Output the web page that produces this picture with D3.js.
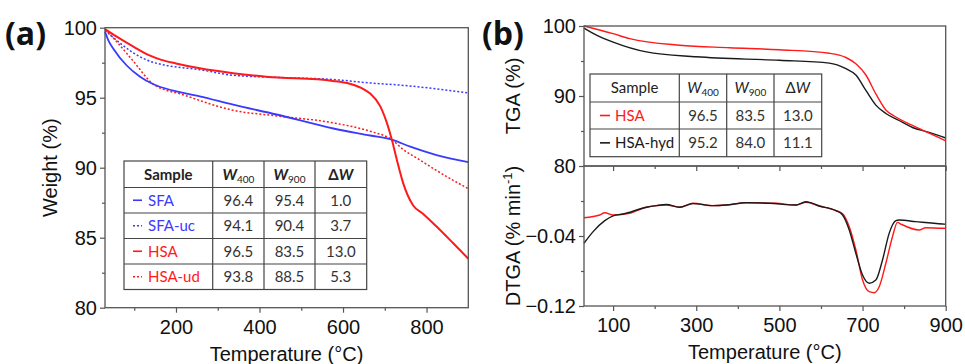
<!DOCTYPE html>
<html>
<head>
<meta charset="utf-8">
<script src="https://cdn.jsdelivr.net/npm/d3@7"></script>
<style>
  body { margin: 0; background: #fff; }
  svg { display: block; }
</style>
</head>
<body>
<div id="chart"></div>
<script>
// ---- panel (a) : weight loss ----
const sfaT   = [30, 38, 50, 82, 114, 146, 194, 257, 337, 441, 577, 665, 717, 761, 824, 900];
const sfaW   = [99.7, 99.1, 98.5, 97.3, 96.5, 95.96, 95.5, 95.1, 94.5, 93.8, 92.8, 92.3, 92.0, 91.5, 90.9, 90.4];
const sfaUcT = [30, 66, 98, 138, 178, 257, 337, 441, 576, 665, 736, 900];
const sfaUcW = [99.8, 98.9, 98.2, 97.6, 97.3, 97.0, 96.6, 96.45, 96.3, 96.05, 95.9, 95.35];
const hsaT   = [30, 58, 98, 138, 165, 200, 257, 337, 416, 576, 616, 650, 665, 689, 705, 717, 729, 744, 768, 792, 824, 864, 900];
const hsaW   = [99.9, 99.36, 98.65, 98.0, 97.7, 97.45, 97.1, 96.75, 96.5, 96.2, 96.0, 95.6, 95.3, 94.4, 93.2, 92.0, 90.55, 88.9, 87.3, 86.7, 85.8, 84.6, 83.5];
const hsaUdT = [30, 58, 98, 146, 218, 337, 441, 577, 665, 717, 744, 784, 824, 864, 900];
const hsaUdW = [99.9, 99.0, 97.6, 95.96, 95.2, 94.1, 93.7, 93.2, 92.6, 92.0, 91.3, 90.55, 89.8, 89.1, 88.5];

// ---- panel (b) : TGA ----
const hsaBT = [30, 100, 140, 260, 380, 500, 620, 660, 684, 708, 732, 756, 780, 820, 860, 900];
const hsaBW = [100, 98.9, 98.2, 97.25, 96.9, 96.6, 96.1, 95.5, 94.6, 93.0, 90.3, 88.0, 87.0, 85.8, 84.7, 83.6];
const hydT  = [30, 60, 100, 180, 300, 500, 620, 660, 684, 708, 732, 756, 788, 820, 860, 900];
const hydW  = [99.7, 98.7, 97.7, 96.3, 95.6, 95.1, 94.7, 93.9, 93.0, 90.8, 88.7, 87.5, 86.5, 85.5, 84.8, 84.0];

// ---- panel (b) : DTGA ----
const dtHsaT = [30, 68, 80, 100, 140, 180, 204, 228, 260, 292, 340, 372, 420, 492, 540, 564, 596, 636, 652, 668, 684, 700, 716, 728, 740, 756, 772, 784, 792, 836, 852, 892, 900];
const dtHsaV = [-0.0191, -0.016, -0.0134, -0.016, -0.014, -0.0072, -0.0053, -0.0046, -0.0072, -0.0026, -0.0053, -0.0046, -0.0019, -0.0026, -0.0046, -0.0015, -0.0057, -0.011, -0.0145, -0.0294, -0.056, -0.0903, -0.1036, -0.1048, -0.098, -0.0712, -0.0408, -0.0244, -0.0263, -0.0331, -0.0305, -0.0312, -0.0312];
const dtHydT = [30, 52, 80, 100, 124, 180, 204, 228, 260, 292, 340, 372, 420, 476, 540, 564, 596, 636, 652, 668, 684, 700, 716, 732, 748, 764, 780, 788, 828, 892, 900];
const dtHydV = [-0.0483, -0.035, -0.0225, -0.017, -0.0149, -0.0072, -0.0053, -0.004, -0.0072, -0.003, -0.0053, -0.0046, -0.002, -0.0026, -0.0046, -0.0008, -0.0057, -0.011, -0.016, -0.0331, -0.06, -0.0846, -0.094, -0.0903, -0.0674, -0.037, -0.0225, -0.0217, -0.0236, -0.0263, -0.0265];

// ---- ticks ----
const xMajorA = [200, 400, 600, 800];
const xMinorA = [100, 300, 500, 700];
const yMajorA = [80, 85, 90, 95, 100];
const yMinorA = [82.5, 87.5, 92.5, 97.5];
const xMajorB = [100, 300, 500, 700, 900];
const xMinorB = [200, 400, 600, 800];
const yMajorTop = [80, 90, 100];
const yMinorTop = [85, 95];
const yMajorDt = [-0.12, -0.04];
const yMinorDt = [-0.08, 0];

// ---- tables ----
const tableA = [
  { name: "SFA",    color: "#3a3aff", dash: null,  vals: ["96.4", "95.4", "1.0"] },
  { name: "SFA-uc", color: "#3a3aff", dash: "2,2", vals: ["94.1", "90.4", "3.7"] },
  { name: "HSA",    color: "#ff1a1a", dash: null,  vals: ["96.5", "83.5", "13.0"] },
  { name: "HSA-ud", color: "#ff1a1a", dash: "2,2", vals: ["93.8", "88.5", "5.3"] }
];
const tableB = [
  { name: "HSA",     color: "#ff1a1a", dash: null, vals: ["96.5", "83.5", "13.0"] },
  { name: "HSA-hyd", color: "#1a1a1a", dash: null, vals: ["95.2", "84.0", "11.1"] }
];

const width = 965, height = 364;
const axisColor = "#555";
const tickFont = "'Liberation Sans', Arial, sans-serif";
const tableFont = "Lato, 'Open Sans', sans-serif";

const svg = d3.select("#chart").append("svg")
  .attr("width", width)
  .attr("height", height);

const zip = (ts, vs) => ts.map((t, i) => [t, vs[i]]);

// scales
const xA = d3.scaleLinear().domain([30, 900]).range([105, 468.3]);
const yA = d3.scaleLinear().domain([80, 100]).range([307.7, 27.7]);
const xB = d3.scaleLinear().domain([30, 900]).range([584, 945.7]);
const yTop = d3.scaleLinear().domain([80, 100]).range([166, 26]);
const yDt = d3.scaleLinear().domain([-0.12, 0.04]).range([306, 166]);

function styleAxis(g, size) {
  g.select(".domain").remove();
  g.selectAll(".tick line").attr("stroke", axisColor).attr("stroke-width", 1.2);
  g.selectAll(".tick text")
    .attr("fill", "#111")
    .style("font-family", tickFont)
    .style("font-size", (size || 20) + "px");
}

function drawAxes(x, y, xMaj, xMin, yMaj, yMin, yFmt, showX) {
  const bottom = y.range()[0];
  const gx = svg.append("g").attr("transform", "translate(0," + bottom + ")")
    .call(d3.axisBottom(x).tickValues(xMaj).tickSize(5).tickSizeOuter(0).tickPadding(7)
      .tickFormat(showX ? d3.format("d") : ""));
  styleAxis(gx);
  const gxm = svg.append("g").attr("transform", "translate(0," + bottom + ")")
    .call(d3.axisBottom(x).tickValues(xMin).tickSize(3).tickSizeOuter(0).tickFormat(""));
  styleAxis(gxm);
  const left = x.range()[0];
  const gy = svg.append("g").attr("transform", "translate(" + left + ",0)")
    .call(d3.axisLeft(y).tickValues(yMaj).tickSize(5).tickSizeOuter(0).tickPadding(3).tickFormat(yFmt));
  styleAxis(gy);
  const gym = svg.append("g").attr("transform", "translate(" + left + ",0)")
    .call(d3.axisLeft(y).tickValues(yMin).tickSize(3).tickSizeOuter(0).tickFormat(""));
  styleAxis(gym);
}

function frame(x, y) {
  svg.append("rect")
    .attr("x", x.range()[0]).attr("y", y.range()[1])
    .attr("width", x.range()[1] - x.range()[0])
    .attr("height", y.range()[0] - y.range()[1])
    .attr("fill", "none").attr("stroke", axisColor).attr("stroke-width", 1.3);
}

function curve(x, y, pts, color, w, dash) {
  const line = d3.line().x(d => x(d[0])).y(d => y(d[1])).curve(d3.curveMonotoneX);
  svg.append("path").datum(pts)
    .attr("d", line)
    .attr("fill", "none")
    .attr("stroke", color)
    .attr("stroke-width", w)
    .attr("stroke-dasharray", dash)
    .attr("stroke-linejoin", "round");
}

// table drawing, cols and rows are edge positions
function drawTable(cols, rows, rowsData, bold, legendX, legendW, textX) {
  const g = svg.append("g");
  g.append("rect")
    .attr("x", cols[0]).attr("y", rows[0])
    .attr("width", cols[cols.length - 1] - cols[0])
    .attr("height", rows[rows.length - 1] - rows[0])
    .attr("fill", "#fff").attr("stroke", "#444").attr("stroke-width", 1.2);
  cols.slice(1, -1).forEach(c => g.append("line")
    .attr("x1", c).attr("x2", c).attr("y1", rows[0]).attr("y2", rows[rows.length - 1])
    .attr("stroke", "#444").attr("stroke-width", 1.2));
  rows.slice(1, -1).forEach(r => g.append("line")
    .attr("x1", cols[0]).attr("x2", cols[cols.length - 1]).attr("y1", r).attr("y2", r)
    .attr("stroke", "#444").attr("stroke-width", 1.2));

  const mid = i => (cols[i] + cols[i + 1]) / 2;
  const rowMid = i => (rows[i] + rows[i + 1]) / 2;
  const fw = bold ? "bold" : "normal";

  const header = g.append("g")
    .style("font-family", tableFont).style("font-size", "15px")
    .attr("fill", "#222").attr("text-anchor", "middle");
  header.append("text").attr("x", mid(0)).attr("y", rowMid(0)).attr("dy", "0.35em")
    .attr("font-weight", fw).text("Sample");
  ["400", "900"].forEach((sub, i) => {
    const t = header.append("text").attr("x", mid(i + 1)).attr("y", rowMid(0)).attr("dy", "0.35em");
    t.append("tspan").attr("font-style", "italic").attr("font-weight", fw).text("W");
    t.append("tspan").attr("font-size", "10px").attr("dy", "3").text(sub);
  });
  const dw = header.append("text").attr("x", mid(3)).attr("y", rowMid(0)).attr("dy", "0.35em")
    .attr("font-weight", fw);
  dw.append("tspan").text("Δ");
  dw.append("tspan").attr("font-style", "italic").text("W");

  rowsData.forEach((d, i) => {
    const cy = rowMid(i + 1);
    g.append("line")
      .attr("x1", legendX).attr("x2", legendX + legendW)
      .attr("y1", cy).attr("y2", cy)
      .attr("stroke", d.color).attr("stroke-width", 1.6)
      .attr("stroke-dasharray", d.dash);
    g.append("text").attr("x", textX).attr("y", cy).attr("dy", "0.35em")
      .style("font-family", tableFont).style("font-size", "15px")
      .attr("fill", d.color).text(d.name);
    d.vals.forEach((v, j) => {
      g.append("text").attr("x", mid(j + 1)).attr("y", cy).attr("dy", "0.35em")
        .attr("text-anchor", "middle")
        .style("font-family", tableFont).style("font-size", "15px")
        .attr("fill", "#333").text(v);
    });
  });
}

// ======== panel (a) ========
drawAxes(xA, yA, xMajorA, xMinorA, yMajorA, yMinorA, d3.format("d"), true);
curve(xA, yA, zip(sfaUcT, sfaUcW), "#3a3aff", 1.5, "2,2");
curve(xA, yA, zip(hsaUdT, hsaUdW), "#ff1a1a", 1.5, "2,2");
curve(xA, yA, zip(sfaT, sfaW), "#3a3aff", 1.8, null);
curve(xA, yA, zip(hsaT, hsaW), "#ff1a1a", 2, null);
frame(xA, yA);
drawTable([124, 212.7, 264, 315, 366.7], [161, 187.5, 213, 238.5, 264, 289.5], tableA, true, 133, 9, 148);

svg.append("text").attr("x", 286.5).attr("y", 361).attr("text-anchor", "middle")
  .style("font-family", tickFont).style("font-size", "20px").attr("fill", "#111")
  .text("Temperature (°C)");
svg.append("text").attr("transform", "translate(57,167.7) rotate(-90)").attr("text-anchor", "middle")
  .style("font-family", tickFont).style("font-size", "20px").attr("fill", "#111")
  .text("Weight (%)");
svg.append("text").attr("x", 5).attr("y", 45)
  .style("font-family", "'Open Sans', sans-serif").style("font-size", "32px")
  .attr("font-weight", "bold").attr("fill", "#111").text("(a)");

// ======== panel (b) ========
drawAxes(xB, yTop, [], [], yMajorTop, yMinorTop, d3.format("d"), false);
drawAxes(xB, yDt, xMajorB, xMinorB, yMajorDt, yMinorDt, d3.format(".2f"), true);
// ticks on the shared edge, pointing into the DTGA panel
styleAxis(svg.append("g").attr("transform", "translate(0,166)")
  .call(d3.axisBottom(xB).tickValues(xMajorB).tickSize(5).tickSizeOuter(0).tickFormat("")));
styleAxis(svg.append("g").attr("transform", "translate(0,166)")
  .call(d3.axisBottom(xB).tickValues(xMinorB).tickSize(3).tickSizeOuter(0).tickFormat("")));

curve(xB, yTop, zip(hydT, hydW), "#1a1a1a", 1.4, null);
curve(xB, yTop, zip(hsaBT, hsaBW), "#ff1a1a", 1.4, null);
curve(xB, yDt, zip(dtHsaT, dtHsaV), "#ff1a1a", 1.4, null);
curve(xB, yDt, zip(dtHydT, dtHydV), "#1a1a1a", 1.4, null);
frame(xB, yTop);
frame(xB, yDt);
drawTable([590, 679.3, 726.7, 774, 821.7], [74, 102, 129, 156.7], tableB, false, 600, 10, 615);

svg.append("text").attr("x", 764.8).attr("y", 358.5).attr("text-anchor", "middle")
  .style("font-family", tickFont).style("font-size", "20px").attr("fill", "#111")
  .text("Temperature (°C)");
svg.append("text").attr("transform", "translate(520,96) rotate(-90)").attr("text-anchor", "middle")
  .style("font-family", tickFont).style("font-size", "20px").attr("fill", "#111")
  .text("TGA (%)");
const dl = svg.append("text").attr("transform", "translate(520,236) rotate(-90)").attr("text-anchor", "middle")
  .style("font-family", tickFont).style("font-size", "20px").attr("fill", "#111");
dl.append("tspan").text("DTGA (% min");
dl.append("tspan").attr("font-size", "13px").attr("dy", "-8").text("-1");
dl.append("tspan").attr("dy", "8").text(")");
svg.append("text").attr("x", 482).attr("y", 45)
  .style("font-family", "'Open Sans', sans-serif").style("font-size", "32px")
  .attr("font-weight", "bold").attr("fill", "#111").text("(b)");
</script>
</body>
</html>
